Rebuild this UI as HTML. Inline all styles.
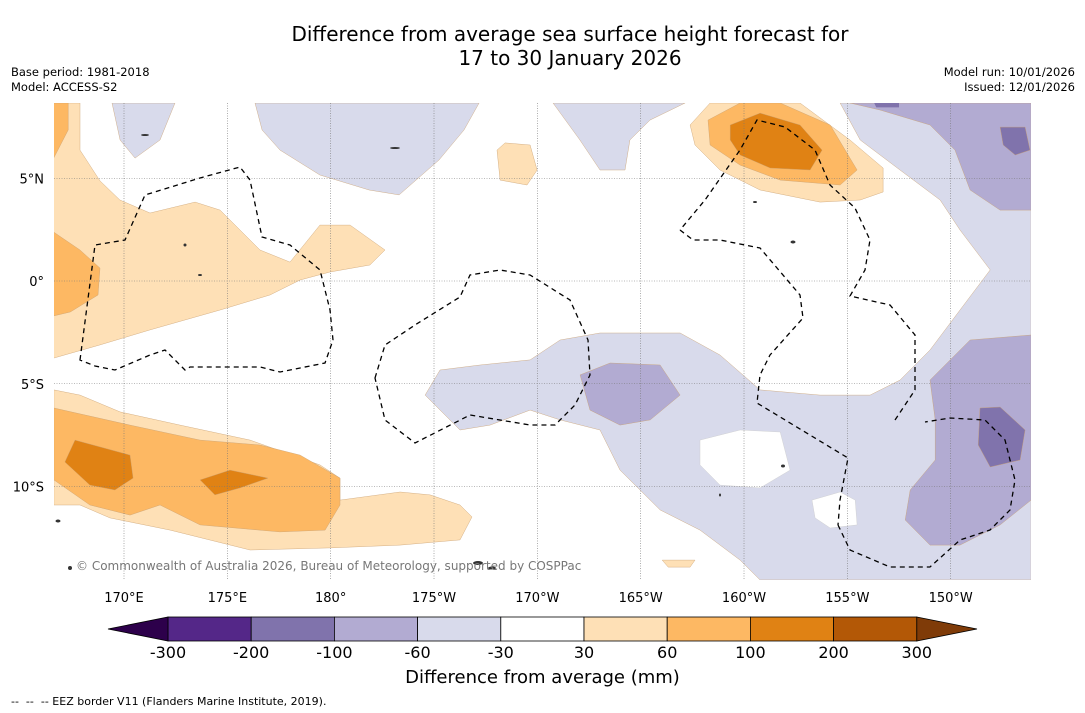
<!DOCTYPE html>
<html><head><meta charset="utf-8">
<style>
body{margin:0;background:#fff;font-family:"DejaVu Sans",sans-serif;}
#wrap{position:relative;width:1085px;height:713px;overflow:hidden;background:#fff;}
.t{position:absolute;color:#000;white-space:nowrap;}
</style></head><body>
<div id="wrap">
<div class="t" style="left:0;width:1140px;text-align:center;top:22px;font-size:20px;line-height:24px;">Difference from average sea surface height forecast for<br>17 to 30 January 2026</div>
<div class="t" style="left:11px;top:65px;font-size:11.5px;line-height:15px;">Base period: 1981-2018<br>Model: ACCESS-S2</div>
<div class="t" style="right:10px;top:65px;font-size:11.5px;line-height:15px;text-align:right;">Model run: 10/01/2026<br>Issued: 12/01/2026</div>
<div class="t" style="left:0;width:1085px;text-align:center;top:667px;font-size:18px;">Difference from average (mm)</div>
<div class="t" style="left:11px;top:695px;font-size:11px;">-- &nbsp;-- &nbsp;-- EEZ border V11 (Flanders Marine Institute, 2019).</div>
<svg id="svg" width="1085" height="713" style="position:absolute;left:0;top:0"></svg>
</div>
<script>
const levels=[-300,-200,-100,-60,-30,30,60,100,200,300];
const levelColors=["#542788","#8073ac","#b2abd2","#d8daeb","#ffffff","#fee0b6","#fdb863","#e08214","#b35806"];
const lonTicks=[170,175,180,185,190,195,200,205,210];
const lonLabels=["170°E","175°E","180°","175°W","170°W","165°W","160°W","155°W","150°W"];
const latTicks=[5,0,-5,-10];
const latLabels=["5°N","0°","5°S","10°S"];
const polyLevels=[3,5,5,6,6,6,7,7,5,6,7,5,5,3,3,3,4,4,2,2,2,1,1];
const polys=[
[[184.57,-5.55],[185.29,-4.33],[187.23,-4.09],[189.65,-3.84],[191.1,-2.87],[193.03,-2.53],[196.91,-2.53],[198.84,-3.6],[200.78,-5.3],[203.68,-5.55],[206.1,-5.55],[207.55,-4.82],[209,-3.36],[210.45,-1.41],[211.91,0.54],[210.45,2.48],[209.49,3.94],[207.55,5.4],[205.62,6.86],[204.65,8.66],[213.89,8.66],[213.89,-14.55],[200.78,-14.55],[199.81,-13.58],[197.87,-12.12],[195.94,-11.14],[194,-9.2],[193.03,-7.25],[191.1,-6.76],[189.65,-6.28],[187.71,-7.01],[186.26,-7.25]],
[[166.6,8.66],[167.87,8.66],[167.87,6.37],[168.84,4.87],[169.8,3.94],[171.26,3.31],[173.44,3.84],[174.65,3.45],[176.58,1.51],[178.03,0.92],[179.48,2.72],[180.94,2.72],[182.63,1.51],[181.9,0.78],[179.97,0.44],[178.52,0.05],[177.06,-0.68],[174.65,-1.41],[171.26,-2.38],[168.84,-3.11],[166.6,-3.75]],
[[166.61,-5.3],[167.87,-5.55],[169.81,-6.37],[172.71,-7.01],[176.1,-7.74],[179.48,-8.95],[180.45,-9.59],[180.45,-10.66],[183.36,-10.27],[184.81,-10.41],[186.26,-10.9],[186.84,-11.48],[186.26,-12.6],[183.36,-12.85],[179.97,-12.99],[176.1,-13.09],[172.23,-12.12],[169.32,-11.53],[167.87,-10.9],[166.61,-10.9]],
[[166.6,8.66],[167.3,8.66],[167.3,7.35],[166.6,5.98]],
[[166.6,2.38],[167.87,1.51],[168.84,0.63],[168.74,-0.68],[167.4,-1.51],[166.6,-1.7]],
[[166.61,-6.18],[170.29,-7.01],[173.68,-7.74],[176.58,-7.98],[178.52,-8.47],[180.45,-9.59],[180.45,-10.9],[179.73,-12.12],[177.55,-12.21],[173.68,-11.87],[171.74,-10.9],[170.29,-11.39],[168.35,-10.9],[166.61,-9.68]],
[[167.63,-7.74],[170.29,-8.47],[170.44,-9.59],[169.56,-10.17],[168.35,-9.93],[167.14,-8.81]],
[[173.68,-9.68],[175.13,-9.2],[176.97,-9.59],[175.62,-10.07],[174.4,-10.41]],
[[198.36,8.66],[202.71,8.66],[205.13,6.86],[206.73,5.5],[206.73,4.33],[205.62,3.94],[203.68,3.84],[200.78,4.43],[198.84,5.4],[197.63,6.62],[197.39,7.59]],
[[199.81,8.66],[201.75,8.66],[204.17,7.59],[205.47,5.4],[204.65,4.67],[201.75,4.91],[199.81,5.64],[198.36,6.62],[198.26,7.83]],
[[199.33,7.59],[200.78,8.17],[202.71,7.59],[203.78,6.37],[203.2,5.4],[201.26,5.5],[199.81,6.13],[199.33,6.86]],
[[188.05,6.37],[188.44,6.72],[189.65,6.62],[189.99,5.4],[189.5,4.67],[188.2,4.91]],
[[196.04,-13.58],[197.63,-13.58],[197.39,-13.92],[196.33,-13.92]],
[[169.42,8.66],[172.47,8.66],[171.74,6.86],[170.53,5.98],[169.81,6.86]],
[[176.34,8.66],[187.18,8.66],[186.45,7.35],[185.24,5.89],[183.31,4.19],[181.86,4.43],[179.48,5.16],[177.55,6.37],[176.68,7.35]],
[[190.76,8.66],[197.15,8.66],[195.45,7.83],[194.48,6.86],[194.24,5.4],[193.03,5.4],[192.06,6.86]],
[[197.87,-7.74],[199.81,-7.25],[201.75,-7.35],[202.23,-9.2],[200.78,-10.07],[198.84,-9.93],[197.87,-8.95]],
[[203.29,-10.66],[204.65,-10.27],[205.38,-10.66],[205.47,-11.87],[204.17,-12.02],[203.44,-11.53]],
[[192.07,-4.57],[193.52,-3.99],[195.94,-4.09],[196.91,-5.55],[195.46,-6.76],[194,-7.01],[192.55,-6.28]],
[[205.13,8.66],[213.89,8.66],[213.89,3.45],[212.39,3.45],[210.94,4.43],[210.21,6.37],[209,7.59],[206.58,8.32]],
[[209,-4.82],[210.94,-2.87],[213.89,-2.63],[213.89,-10.66],[212.39,-11.87],[210.45,-12.85],[209,-12.85],[207.8,-11.63],[208.04,-10.17],[209.25,-8.71],[209.25,-6.76]],
[[212.39,7.49],[213.6,7.49],[213.84,6.37],[213.12,6.13],[212.54,6.62]],
[[211.42,-6.18],[212.39,-6.13],[213.6,-7.25],[213.36,-8.71],[211.91,-9.05],[211.33,-7.98]]
];
const purpleTop=[[206.3,8.66],[207.5,8.66],[207.5,8.45],[206.4,8.45]];
const NS="http://www.w3.org/2000/svg";
const FF="DejaVu Sans, sans-serif";
const svg=document.getElementById('svg');
const X=lon=>124+(lon-170)*20.667;
const Y=lat=>281-lat*20.55;
function mk(t,a){const e=document.createElementNS(NS,t);for(const k in a)e.setAttribute(k,a[k]);svg.appendChild(e);return e;}
const cp=document.createElementNS(NS,'clipPath');cp.setAttribute('id','mc');
const cr=document.createElementNS(NS,'rect');cr.setAttribute('x',54);cr.setAttribute('y',103);cr.setAttribute('width',977);cr.setAttribute('height',477);cp.appendChild(cr);svg.appendChild(cp);
const bg=mk('rect',{x:54,y:103,width:977,height:477,fill:'#fff'});


const g=mk('g',{'clip-path':'url(#mc)'});
polys.forEach((p,i)=>{
 const e=document.createElementNS(NS,'polygon');
 e.setAttribute('points',p.map(q=>X(q[0]).toFixed(1)+','+Y(q[1]).toFixed(1)).join(' '));
 const c=levelColors[polyLevels[i]];
 e.setAttribute('fill',c);
 e.setAttribute('stroke',c==='#ffffff'?'#ccc':'#c9a070');
 e.setAttribute('stroke-width','0.4');
 
 
 g.appendChild(e);
});
{const e=document.createElementNS(NS,'polygon');
e.setAttribute('points',purpleTop.map(q=>X(q[0])+','+Y(q[1])).join(' '));
e.setAttribute('fill','#8073ac');


g.appendChild(e);}
svg.appendChild(g);
lonTicks.forEach((l,i)=>{
 const ln=mk('line',{x1:X(l),x2:X(l),y1:103,y2:580,stroke:'#777','stroke-width':0.6,'stroke-dasharray':'1,1.5'});
 
 
 const t=mk('text',{x:X(l),y:602,'text-anchor':'middle','font-size':13,'font-family':FF});
 t.textContent=lonLabels[i];
 
 
});
latTicks.forEach((l,i)=>{
 const ln=mk('line',{x1:54,x2:1031,y1:Y(l),y2:Y(l),stroke:'#777','stroke-width':0.6,'stroke-dasharray':'1,1.5'});
 
 
 const t=mk('text',{x:44,y:Y(l)+5,'text-anchor':'end','font-size':13,'font-family':FF});
 t.textContent=latLabels[i];
 
 
});
const eez=[
"M80,360 L95,245 L125,240 L145,195 L200,178 L240,167 L250,180 L262,237 L290,245 L320,270 L330,310 L333,340 L325,363 L280,372 L260,367 L190,367 L185,370 L165,350 L150,355 L115,370 L95,366 Z",
"M375,378 L385,345 L415,325 L460,297 L470,275 L500,270 L530,275 L570,300 L588,340 L590,375 L575,405 L555,425 L530,425 L470,415 L415,443 L385,420 Z",
"M680,230 L693,240 L720,240 L760,248 L800,295 L803,318 L770,355 L760,375 L757,403 L848,458 L840,500 L838,525",
"M838,525 L850,550 L890,567 L930,567 L960,540 L990,530 L1010,510 L1015,480 L1005,440 L985,420 L950,418 L925,422",
"M895,420 L915,390 L915,335 L890,305 L850,296 L865,270 L870,240 L855,208 L830,185 L815,150 L785,127 L757,120 L740,150 L705,200 L680,230"];
eez.forEach(d=>{const p=mk('path',{d:d,fill:'none',stroke:'#000','stroke-width':1.3,'stroke-dasharray':'5,4'});

});
const islands=[[478,563,10,4],[492,568,8,3],[145,135,8,2],[185,245,3,3],[200,275,4,2],[793,242,5,3],[755,202,4,2],[395,148,10,2],[58,521,5,3],[70,568,4,4],[783,466,4,3],[720,495,2,3]];
islands.forEach(s=>{const e=mk('ellipse',{cx:s[0],cy:s[1],rx:s[2]/2,ry:s[3]/2,fill:'#333'});

});
const cpy=mk('text',{x:76,y:570,'font-size':12,fill:'#777','font-family':FF});
cpy.textContent='© Commonwealth of Australia 2026, Bureau of Meteorology, supported by COSPPac';


const cbX=168,cbW=83.2,cbY=617,cbH=24;
levelColors.forEach((c,i)=>{const r=mk('rect',{x:cbX+i*cbW,y:cbY,width:cbW,height:cbH,fill:c,stroke:'#000','stroke-width':0.8});

});
const tl=mk('polygon',{points:`108,629 ${cbX},${cbY} ${cbX},${cbY+cbH}`,fill:'#2d004b',stroke:'#000','stroke-width':0.8});


const xe=cbX+9*cbW;
const tr=mk('polygon',{points:`${xe},${cbY} 977,629 ${xe},${cbY+cbH}`,fill:'#7f3b08',stroke:'#000','stroke-width':0.8});


levels.forEach((v,i)=>{const t=mk('text',{x:cbX+i*cbW,y:658,'text-anchor':'middle','font-size':16,'font-family':FF});
t.textContent=v;

});
</script>
</body></html>
